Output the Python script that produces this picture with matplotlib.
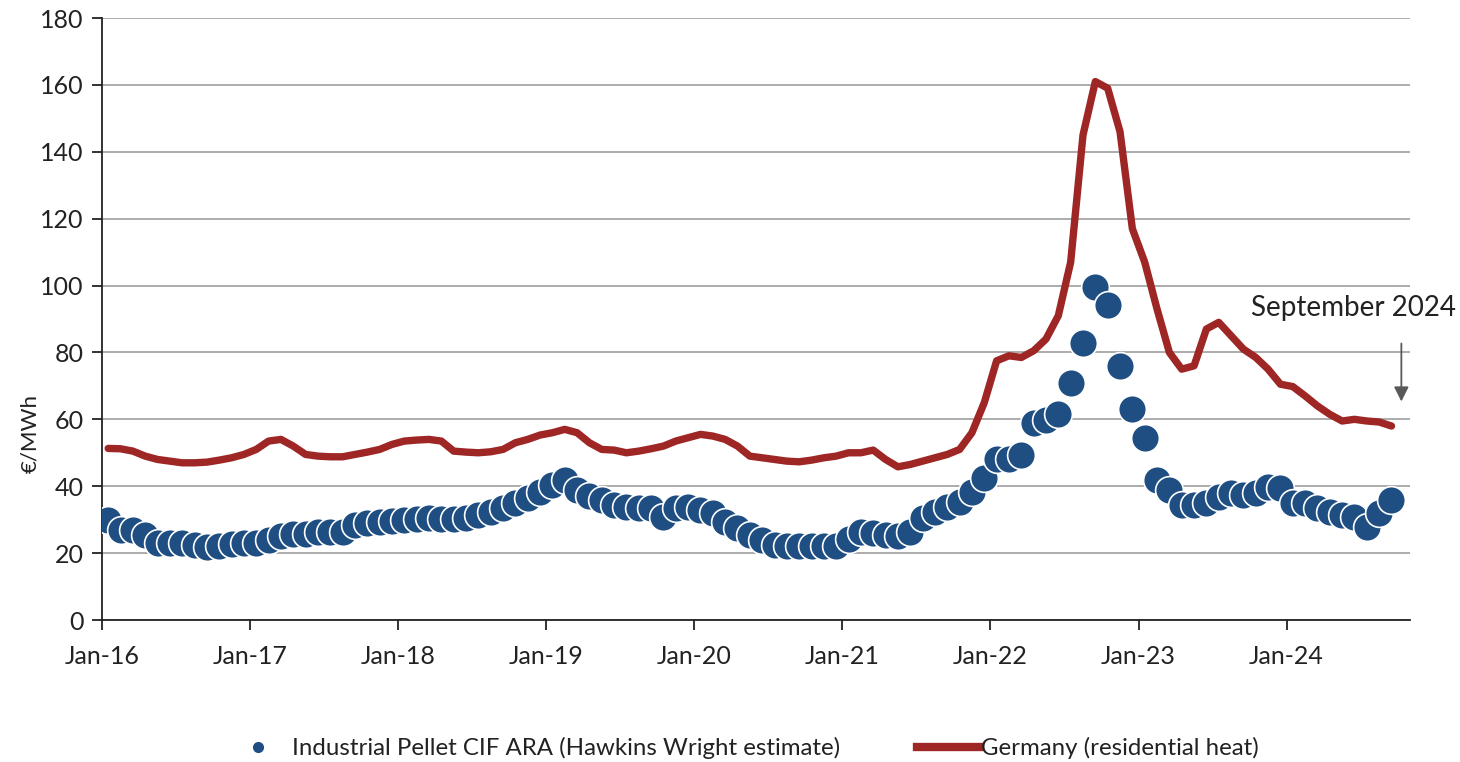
import numpy as np
import matplotlib
matplotlib.use("Agg")
import matplotlib.pyplot as plt
from matplotlib.lines import Line2D

plt.rcParams['font.family'] = ['Lato', 'DejaVu Sans']

# monthly, Jan-16 .. Sep-24 (EUR/MWh)
pellet_ara = [30, 27, 27, 25.4, 23, 23, 23, 22.5, 21.8, 22, 22.7, 23,
              23, 24, 25, 25.7, 25.8, 26.3, 26.3, 26.2, 28.5, 29.1, 29.4, 29.6,
              29.9, 30.2, 30.5, 30.3, 30.3, 30.6, 31.4, 32.4, 33.4, 35, 36.5, 38.4,
              40.4, 41.9, 38.9, 37, 35.9, 34.5, 33.9, 33.4, 33.4, 30.9, 33.4, 33.9,
              32.9, 32, 29.4, 27.5, 25.4, 23.9, 22.4, 22.1, 22.1, 22.1, 22.1, 22.1,
              24.3, 26.2, 26, 25.4, 25.1, 26.4, 30.5, 32.4, 33.8, 35.4, 38.4, 42.5,
              48.1, 48.1, 49.3, 58.9, 59.8, 61.6, 71, 82.9, 99.7, 94.2, 75.8, 63.1,
              54.4, 42, 38.9, 34.4, 34.4, 35, 36.9, 37.9, 37.4, 37.9, 39.9, 39.4,
              35, 35, 33.4, 32.4, 31.4, 30.9, 27.9, 31.9, 35.8]

germany_heat = [51.3, 51.2, 50.5, 49, 48, 47.5, 47, 47, 47.2, 47.8, 48.5, 49.5,
                51, 53.5, 54, 52, 49.5, 49, 48.8, 48.8, 49.5, 50.2, 51, 52.5,
                53.5, 53.8, 54, 53.5, 50.5, 50.2, 50, 50.3, 51, 53, 54, 55.3,
                56, 57, 56, 53, 51, 50.8, 50, 50.5, 51.2, 52, 53.5, 54.5,
                55.5, 55, 54, 52, 49, 48.5, 48, 47.5, 47.3, 47.8, 48.5, 49,
                50, 50, 50.8, 48, 45.8, 46.5, 47.5, 48.5, 49.5, 51, 56, 65,
                77.5, 79, 78.5, 80.5, 84, 91, 107, 145, 161, 159, 146, 117,
                107, 93, 80, 75, 76, 87, 89, 85, 81, 78.5, 75, 70.5,
                69.8, 67, 64, 61.5, 59.5, 60, 59.5, 59.2, 58]

year_labels = ['Jan-16', 'Jan-17', 'Jan-18', 'Jan-19', 'Jan-20',
               'Jan-21', 'Jan-22', 'Jan-23', 'Jan-24']
y_ticks = list(range(0, 181, 20))

blue = '#1f4e82'
red = '#9e2624'
grey = '#a6a6a6'
ink = '#222222'

fig = plt.figure(figsize=(14.6, 7.62), dpi=100)
ax = fig.add_axes([102 / 1460, 1 - 620 / 762, (1410 - 102) / 1460, (620 - 18) / 762])

x = np.arange(len(pellet_ara)) + 0.5

ax.plot(x, germany_heat, color=red, lw=5.3, solid_capstyle='round',
        solid_joinstyle='round', zorder=3)
ax.plot(x, pellet_ara, 'o', color=blue, markersize=20, markeredgecolor='white',
        markeredgewidth=1.2, zorder=4)

ax.set_xlim(0, 106)
ax.set_ylim(0, 180)
ax.set_xticks(np.arange(len(year_labels)) * 12)
ax.set_xticklabels(year_labels)
ax.set_yticks(y_ticks)
ax.yaxis.grid(True, color=grey, lw=1.3)
ax.set_axisbelow(True)
for s in ['top', 'right']:
    ax.spines[s].set_visible(False)
for s in ['left', 'bottom']:
    ax.spines[s].set_color(ink)
    ax.spines[s].set_linewidth(1.3)
ax.tick_params(axis='both', direction='out', length=7, width=1.3,
               color=ink, labelsize=18, labelcolor=ink)
ax.tick_params(axis='x', pad=11)
ax.tick_params(axis='y', pad=6)
ax.set_ylabel('€/MWh', fontsize=16, color=ink)
ax.yaxis.set_label_coords(-0.047, 0.31)

# annotation
ax.annotate('', xy=(105.3, 64.5), xytext=(105.3, 83.5),
            arrowprops=dict(arrowstyle='-|>', color='#595959', lw=1.3,
                            mutation_scale=22), annotation_clip=False)
ax.text(101.4, 93.3, 'September 2024', fontsize=20, color=ink,
        ha='center', va='center', clip_on=False)

handles = [Line2D([], [], marker='o', ls='none', color=blue, markersize=7),
           Line2D([], [], color=red, lw=6)]
ax.legend(handles, ['Industrial Pellet CIF ARA (Hawkins Wright estimate)',
                    'Germany (residential heat)'],
          loc='center', bbox_to_anchor=(0.49, -0.2126), ncol=2, frameon=False,
          fontsize=17.3, handlelength=2.6, handletextpad=0.1, columnspacing=3.2,
          labelcolor=ink)

fig.savefig('out.png', dpi=100)
